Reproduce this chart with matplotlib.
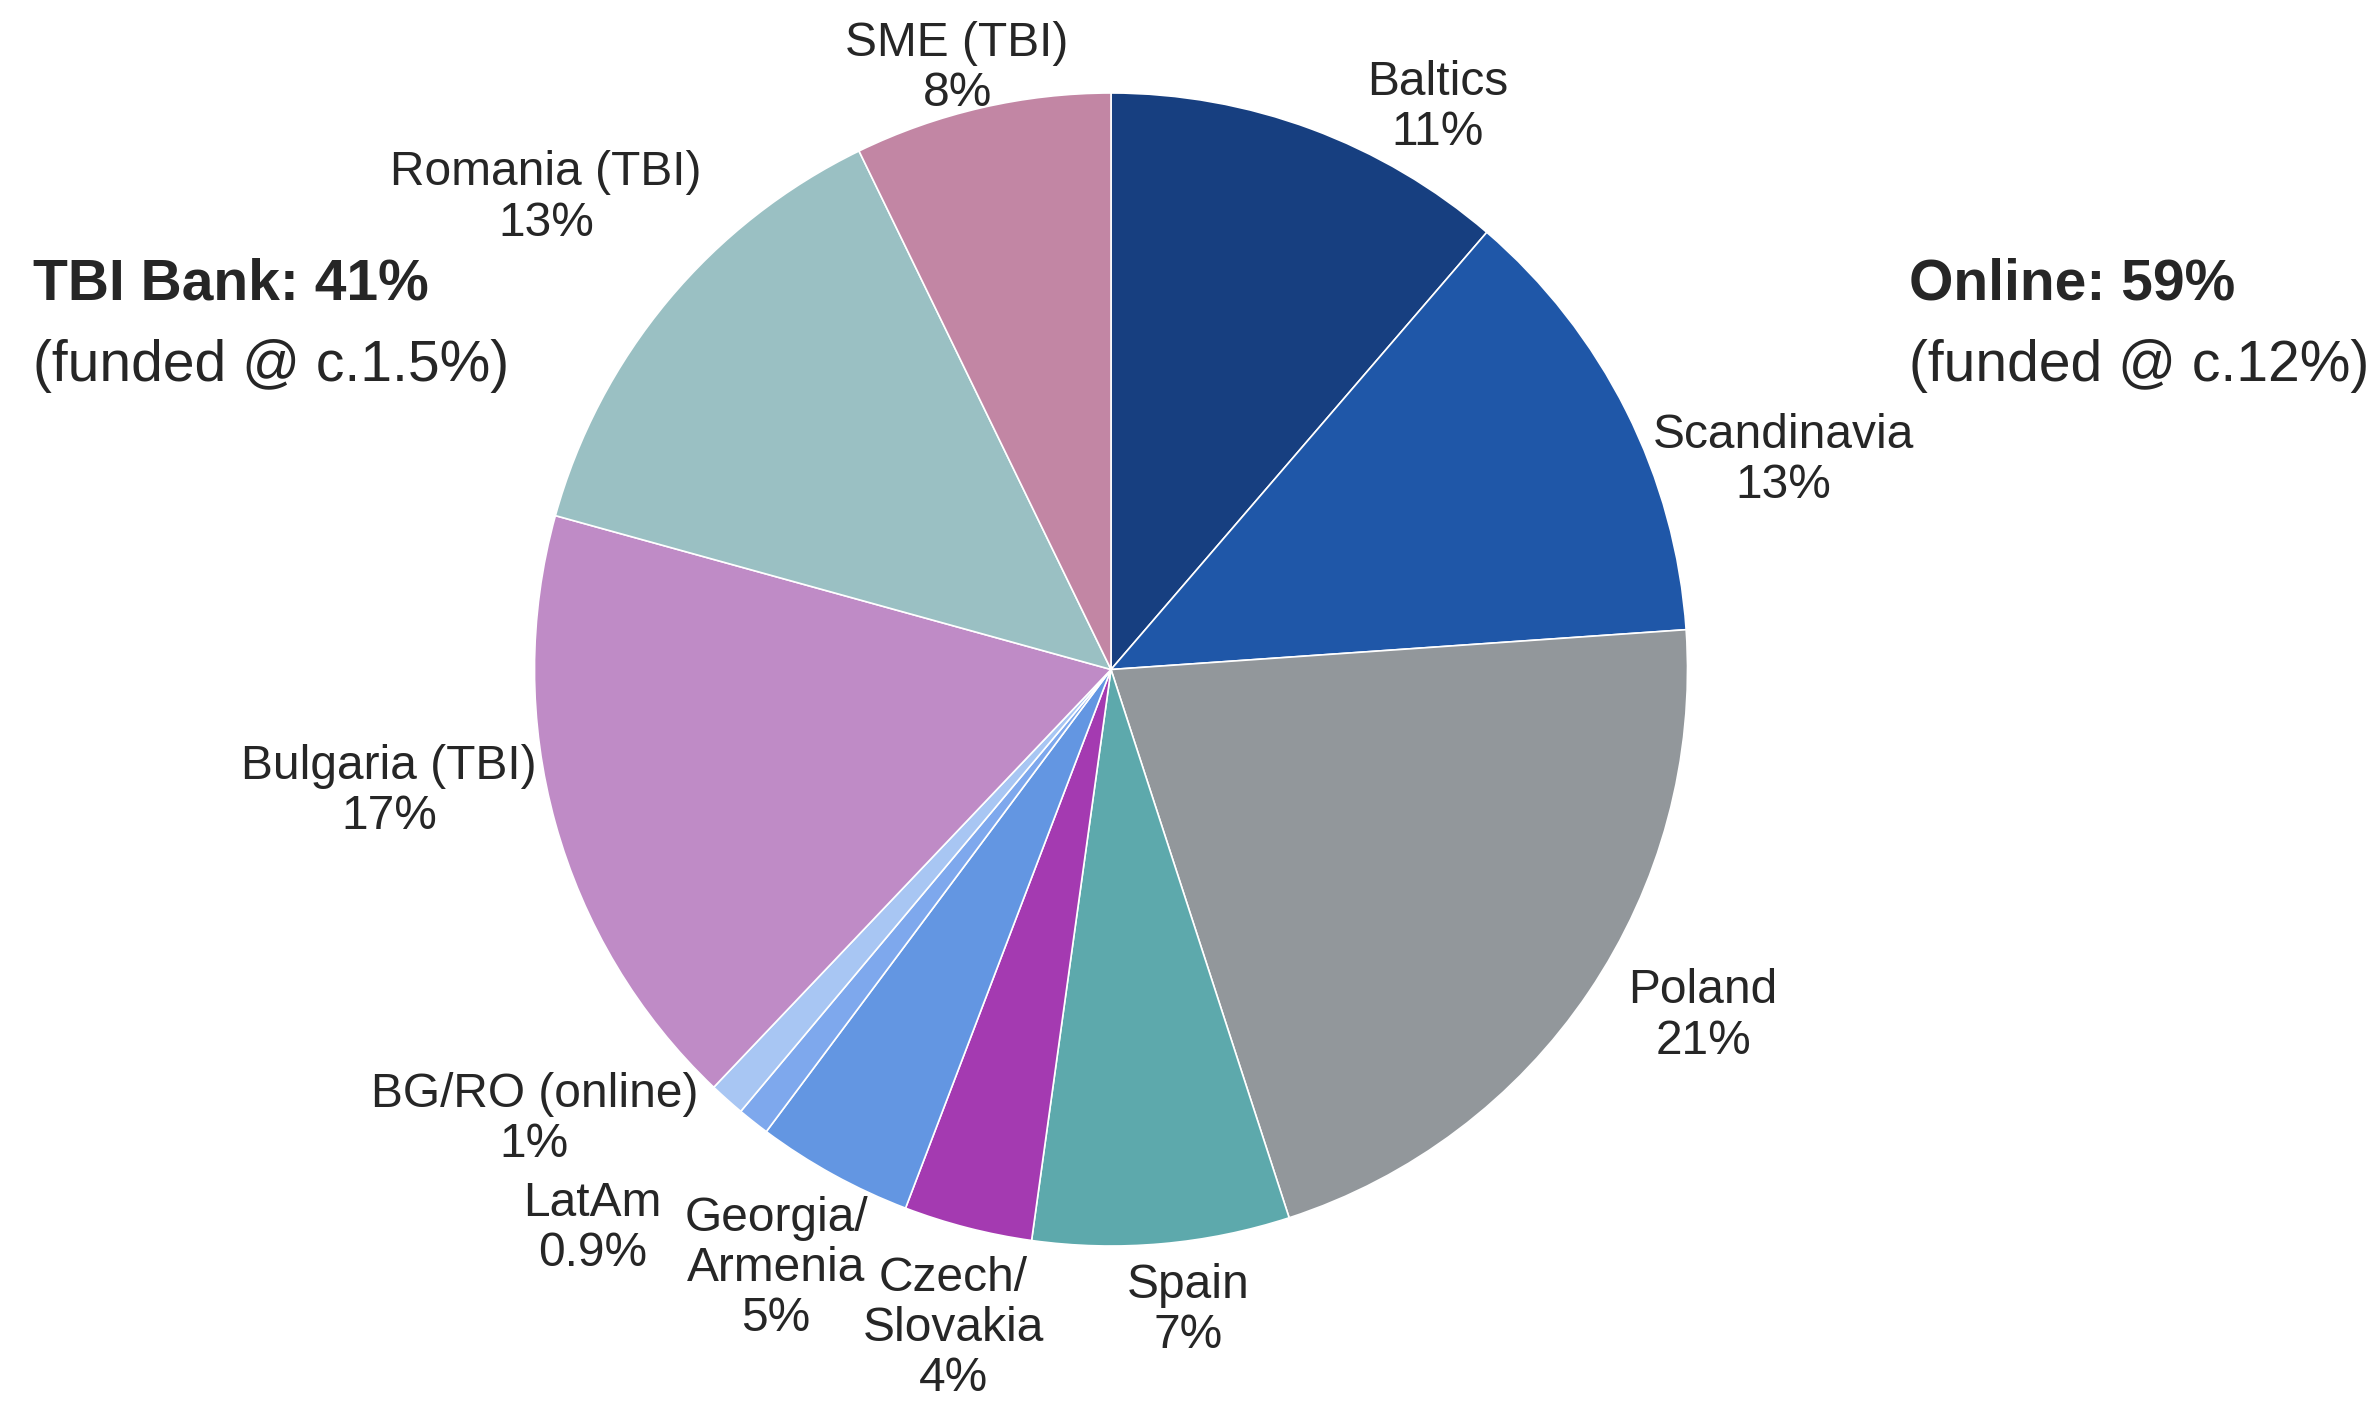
import matplotlib
matplotlib.use("Agg")
import matplotlib.pyplot as plt

plt.rcParams['font.family'] = ['Liberation Sans', 'DejaVu Sans']

# share of loan book, clockwise from 12 o'clock
segments = ['Baltics', 'Scandinavia', 'Poland', 'Spain', 'Czech/\nSlovakia',
            'Georgia/\nArmenia', 'LatAm', 'BG/RO (online)', 'Bulgaria (TBI)',
            'Romania (TBI)', 'SME (TBI)']
shares = [11.3, 12.6, 21.1, 7.2, 3.6, 4.4, 0.9, 1.0, 17.2, 13.5, 7.2]
share_labels = ['11%', '13%', '21%', '7%', '4%', '5%', '0.9%', '1%', '17%', '13%', '8%']

colors = ['#173f80', '#1f57a8', '#92979b', '#5da9ac', '#a43ab1', '#6396e2',
          '#7ea8ed', '#a8c6f3', '#bf8bc6', '#9ac0c3', '#c286a4']

# label centres in pie-radius units (manual placement as in the original)
label_pos = [(0.567, 0.975), (1.166, 0.363), (1.027, -0.601), (0.134, -1.112),
             (-0.274, -1.143), (-0.581, -1.039), (-0.899, -0.969), (-1.000, -0.780),
             (-1.252, -0.212), (-0.980, 0.818), (-0.267, 1.043)]

txt = '#262626'

fig = plt.figure(figsize=(23.71, 14.06), dpi=100)
ax = fig.add_axes([0, 0, 1, 1])

ax.pie(shares, colors=colors, startangle=90, counterclock=False,
       wedgeprops=dict(edgecolor='white', linewidth=1.2))

for name, pct, (x, y) in zip(segments, share_labels, label_pos):
    ax.text(x, y, f'{name}\n{pct}', ha='center', va='center',
            fontsize=34.5, color=txt, linespacing=1.15)

ax.set_xlim(-1111 / 576.5, (2371 - 1111) / 576.5)
ax.set_ylim(-(1406 - 669.5) / 576.5, 669.5 / 576.5)
ax.set_aspect('equal', adjustable='box')
ax.axis('off')

fig.text(0.014, 0.798, 'TBI Bank: 41%', fontsize=41, fontweight='bold',
         color=txt, ha='left', va='center')
fig.text(0.014, 0.740, '(funded @ c.1.5%)', fontsize=41,
         color=txt, ha='left', va='center')
fig.text(0.805, 0.798, 'Online: 59%', fontsize=41, fontweight='bold',
         color=txt, ha='left', va='center')
fig.text(0.805, 0.740, '(funded @ c.12%)', fontsize=41,
         color=txt, ha='left', va='center')

fig.savefig('out.png', dpi=100, facecolor='white')
